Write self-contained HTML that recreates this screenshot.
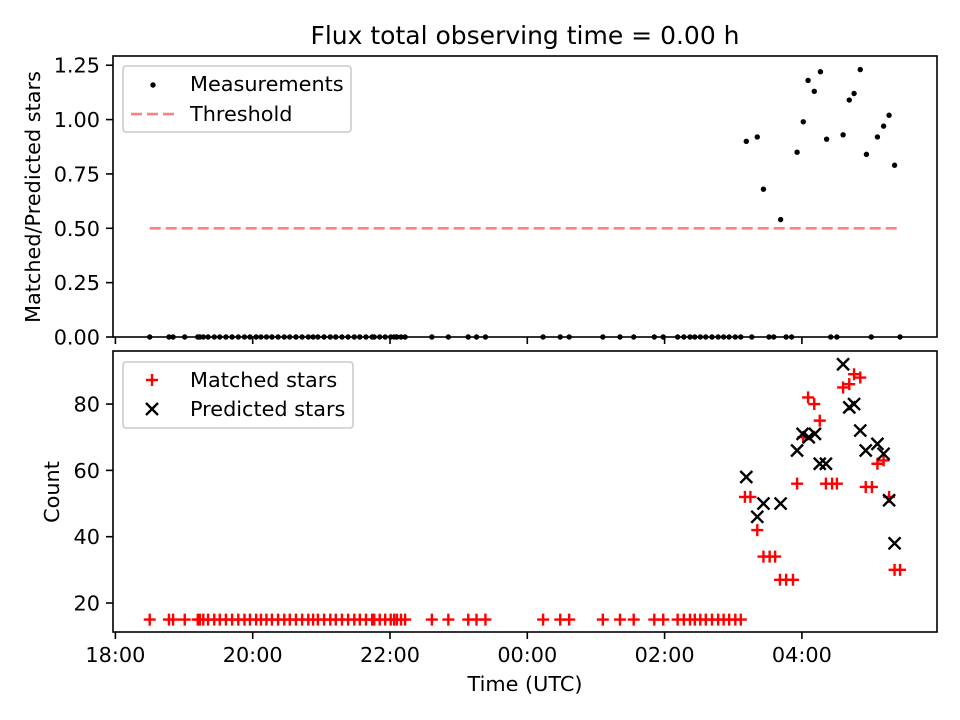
<!DOCTYPE html>
<html><head><meta charset="utf-8"><style>
html,body{margin:0;padding:0;background:#fff}
svg{display:block;font-family:"DejaVu Sans","Liberation Sans",sans-serif}
</style></head><body>
<svg id="chart" width="960" height="720" viewBox="0 0 960 720" xmlns="http://www.w3.org/2000/svg"></svg>
<script>
// Time in hours since 18:00 UTC
const lowTimes=[0.50,0.78,0.84,1.01,1.20,1.23,1.28,1.35,1.44,1.52,1.61,1.70,1.79,1.88,1.96,2.05,2.12,2.20,2.28,2.37,2.46,2.54,2.63,2.72,2.81,2.88,2.95,3.04,3.13,3.21,3.30,3.39,3.48,3.56,3.65,3.74,3.77,3.85,3.93,4.01,4.06,4.10,4.16,4.22,4.61,4.85,5.14,5.26,5.39,6.23,6.48,6.61,7.10,7.35,7.55,7.85,7.98,8.19,8.28,8.37,8.44,8.52,8.60,8.69,8.78,8.86,8.94,9.03,9.11];
const zeroExtraTimes=[9.27,9.52,9.59,9.77,9.85,10.42,10.51,11.01,11.43];
const ratioTimes=[9.19,9.35,9.44,9.69,9.93,10.02,10.09,10.18,10.27,10.36,10.60,10.69,10.76,10.85,10.94,11.10,11.19,11.27,11.35];
const ratioValues=[0.90,0.92,0.68,0.54,0.85,0.99,1.18,1.13,1.22,0.91,0.93,1.09,1.12,1.23,0.84,0.92,0.97,1.02,0.79];
const matchedTimes=[9.17,9.25,9.35,9.44,9.53,9.61,9.68,9.77,9.87,9.93,10.02,10.09,10.18,10.26,10.35,10.44,10.51,10.60,10.69,10.76,10.85,10.93,11.02,11.10,11.19,11.27,11.35,11.43];
const matchedValues=[52,52,42,34,34,34,27,27,27,56,70,82,80,75,56,56,56,85,86,89,88,55,55,62,63,52,30,30];
const lowMatchedValue=15;
const predictedTimes=[9.19,9.35,9.44,9.69,9.93,10.01,10.10,10.19,10.26,10.35,10.60,10.69,10.76,10.85,10.93,11.10,11.19,11.27,11.35];
const predictedValues=[58,46,50,50,66,71,70,71,62,62,92,79,80,72,66,68,65,51,38];
const threshold=0.5, thrStart=0.50, thrEnd=11.43;
const xTickHours=[0,2,4,6,8,10];
const xTickLabels=["18:00","20:00","22:00","00:00","02:00","04:00"];
const topTicks=[0,0.25,0.5,0.75,1.0,1.25];
const topTickLabels=["0.00","0.25","0.50","0.75","1.00","1.25"];
const botTicks=[20,40,60,80];
const botTickLabels=["20","40","60","80"];

const svg=document.getElementById('chart');
const NS='http://www.w3.org/2000/svg';
function mk(tag,attrs,parent){const e=document.createElementNS(NS,tag);for(const k in attrs)e.setAttribute(k,attrs[k]);(parent||svg).appendChild(e);return e;}
const FS='20.8';
const L=113,R=937;
const x=h=>115.4+h*68.65;
const T={top:56,bot:337,min:0,max:1.2925};
const B={top:351,bot:632,min:11.26,max:96.0};
const yT=v=>T.bot-(v-T.min)/(T.max-T.min)*(T.bot-T.top);
const yB=v=>B.bot-(v-B.min)/(B.max-B.min)*(B.bot-B.top);

let t=mk('text',{x:525,y:44,'text-anchor':'middle','font-size':'25'});t.textContent='Flux total observing time = 0.00 h';



// top panel
const gT=mk('g',{});


const thr=mk('line',{x1:x(thrStart),x2:x(thrEnd),y1:yT(threshold),y2:yT(threshold),stroke:'#ff7f7f','stroke-width':2.6,'stroke-dasharray':'11,5'},gT);


lowTimes.concat(zeroExtraTimes).forEach(h=>{const c=mk('circle',{cx:x(h),cy:yT(0),r:2.7,fill:'#000'},gT);

});
ratioTimes.forEach((h,i)=>{const c=mk('circle',{cx:x(h),cy:yT(ratioValues[i]),r:2.7,fill:'#000'},gT);

});
const fT=mk('rect',{x:L,y:T.top,width:R-L,height:T.bot-T.top,fill:'none',stroke:'#000','stroke-width':1.6},gT);


topTicks.forEach((v,i)=>{mk('line',{x1:L-7,x2:L,y1:yT(v),y2:yT(v),stroke:'#000','stroke-width':1.6},gT);
const tx=mk('text',{x:L-13,y:yT(v)+7.5,'text-anchor':'end','font-size':FS},gT);tx.textContent=topTickLabels[i];

});
xTickHours.forEach(h=>mk('line',{x1:x(h),x2:x(h),y1:T.bot,y2:T.bot+7,stroke:'#000','stroke-width':1.6},gT));
let yl=mk('text',{transform:'translate(40,197) rotate(-90)','text-anchor':'middle','font-size':FS},gT);yl.textContent='Matched/Predicted stars';


const lg1=mk('g',{},gT);


mk('rect',{x:123,y:66,width:228,height:66,rx:3,fill:'#fff','fill-opacity':0.8,stroke:'#ccc','stroke-width':1.6},lg1);
mk('circle',{cx:153,cy:85,r:2.7,fill:'#000'},lg1);
let a=mk('text',{x:190,y:91,'font-size':FS},lg1);a.textContent='Measurements';
mk('line',{x1:131,x2:175,y1:114,y2:114,stroke:'#ff7f7f','stroke-width':2.6,'stroke-dasharray':'11,5'},lg1);
a=mk('text',{x:190,y:121,'font-size':FS},lg1);a.textContent='Threshold';

// bottom panel
const gB=mk('g',{});


function plus(cx,cy,g){const p=mk('path',{d:`M${cx-6},${cy}H${cx+6}M${cx},${cy-6}V${cy+6}`,stroke:'#ff0000','stroke-width':2.4},g);

}
function cross(cx,cy,g){const p=mk('path',{d:`M${cx-6},${cy-6}L${cx+6},${cy+6}M${cx-6},${cy+6}L${cx+6},${cy-6}`,stroke:'#000','stroke-width':2.4},g);

}
lowTimes.forEach(h=>plus(x(h),yB(lowMatchedValue),gB));
matchedTimes.forEach((h,i)=>plus(x(h),yB(matchedValues[i]),gB));
predictedTimes.forEach((h,i)=>cross(x(h),yB(predictedValues[i]),gB));
const fB=mk('rect',{x:L,y:B.top,width:R-L,height:B.bot-B.top,fill:'none',stroke:'#000','stroke-width':1.6},gB);


botTicks.forEach((v,i)=>{mk('line',{x1:L-7,x2:L,y1:yB(v),y2:yB(v),stroke:'#000','stroke-width':1.6},gB);
const tx=mk('text',{x:L-13,y:yB(v)+7.5,'text-anchor':'end','font-size':FS},gB);tx.textContent=botTickLabels[i];

});
xTickHours.forEach((h,i)=>{mk('line',{x1:x(h),x2:x(h),y1:B.bot,y2:B.bot+7,stroke:'#000','stroke-width':1.6},gB);
const tx=mk('text',{x:x(h),y:B.bot+30,'text-anchor':'middle','font-size':FS},gB);tx.textContent=xTickLabels[i];

});
yl=mk('text',{transform:'translate(59,492) rotate(-90)','text-anchor':'middle','font-size':FS},gB);yl.textContent='Count';


let xl=mk('text',{x:525,y:691,'text-anchor':'middle','font-size':FS},gB);xl.textContent='Time (UTC)';


const lg2=mk('g',{},gB);


mk('rect',{x:123,y:362,width:230,height:66,rx:3,fill:'#fff','fill-opacity':0.8,stroke:'#ccc','stroke-width':1.6},lg2);
plus(152,380,lg2);
a=mk('text',{x:190,y:387,'font-size':FS},lg2);a.textContent='Matched stars';
cross(152,409,lg2);
a=mk('text',{x:190,y:416,'font-size':FS},lg2);a.textContent='Predicted stars';
</script>
</body></html>
